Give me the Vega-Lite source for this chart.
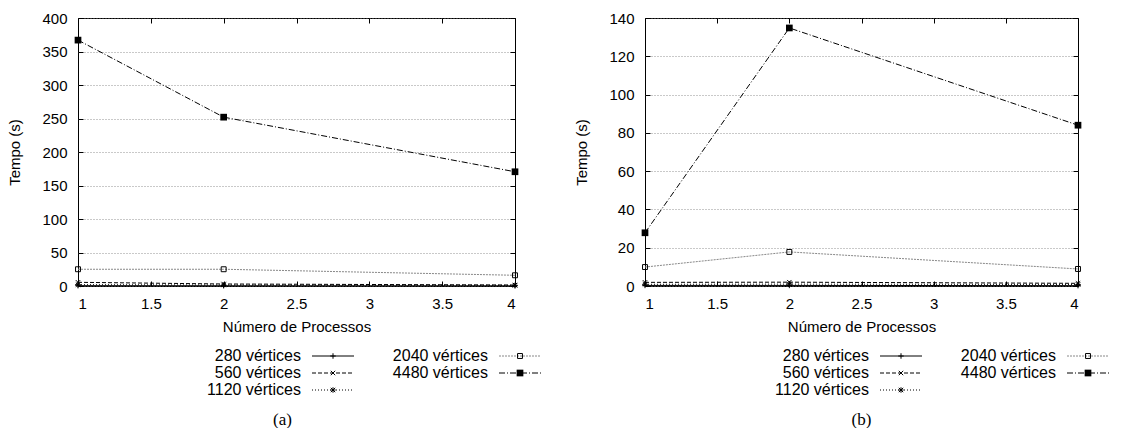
{
  "$schema": "https://vega.github.io/schema/vega-lite/v6.json",
  "background": "white",
  "padding": {"left": 7, "top": 10, "right": 0, "bottom": 0},
  "config": {
    "font": "Liberation Sans",
    "view": {"stroke": "black", "strokeWidth": 1},
    "axis": {
      "labelFont": "Liberation Sans", "labelFontSize": 15, "labelColor": "black",
      "titleFont": "Liberation Sans", "titleFontSize": 15, "titleFontWeight": "normal", "titleColor": "black",
      "domain": false, "tickColor": "black", "tickSize": -5, "tickWidth": 1
    },
    "axisX": {"grid": false, "labelPadding": 15, "titlePadding": 8, "format": "~g"},
    "axisY": {"grid": true, "gridColor": "#777", "gridDash": [1, 2], "gridWidth": 0.8, "labelPadding": 16, "titlePadding": 19}
  },
  "datasets": {
    "times": [
      {"panel": "a", "series": "280 vértices", "proc": 1, "time": 0.5},
      {"panel": "a", "series": "280 vértices", "proc": 2, "time": 0.4},
      {"panel": "a", "series": "280 vértices", "proc": 4, "time": 0.3},
      {"panel": "a", "series": "560 vértices", "proc": 1, "time": 5.5},
      {"panel": "a", "series": "560 vértices", "proc": 2, "time": 3},
      {"panel": "a", "series": "560 vértices", "proc": 4, "time": 1.5},
      {"panel": "a", "series": "1120 vértices", "proc": 1, "time": 2},
      {"panel": "a", "series": "1120 vértices", "proc": 2, "time": 1.5},
      {"panel": "a", "series": "1120 vértices", "proc": 4, "time": 1},
      {"panel": "a", "series": "2040 vértices", "proc": 1, "time": 25},
      {"panel": "a", "series": "2040 vértices", "proc": 2, "time": 25},
      {"panel": "a", "series": "2040 vértices", "proc": 4, "time": 16},
      {"panel": "a", "series": "4480 vértices", "proc": 1, "time": 367},
      {"panel": "a", "series": "4480 vértices", "proc": 2, "time": 252},
      {"panel": "a", "series": "4480 vértices", "proc": 4, "time": 170.5},
      {"panel": "b", "series": "280 vértices", "proc": 1, "time": 0.3},
      {"panel": "b", "series": "280 vértices", "proc": 2, "time": 0.3},
      {"panel": "b", "series": "280 vértices", "proc": 4, "time": 0.2},
      {"panel": "b", "series": "560 vértices", "proc": 1, "time": 1.9},
      {"panel": "b", "series": "560 vértices", "proc": 2, "time": 2},
      {"panel": "b", "series": "560 vértices", "proc": 4, "time": 1.4},
      {"panel": "b", "series": "1120 vértices", "proc": 1, "time": 0.9},
      {"panel": "b", "series": "1120 vértices", "proc": 2, "time": 1},
      {"panel": "b", "series": "1120 vértices", "proc": 4, "time": 0.8},
      {"panel": "b", "series": "2040 vértices", "proc": 1, "time": 9.9},
      {"panel": "b", "series": "2040 vértices", "proc": 2, "time": 17.8},
      {"panel": "b", "series": "2040 vértices", "proc": 4, "time": 8.9},
      {"panel": "b", "series": "4480 vértices", "proc": 1, "time": 27.8},
      {"panel": "b", "series": "4480 vértices", "proc": 2, "time": 134.8},
      {"panel": "b", "series": "4480 vértices", "proc": 4, "time": 84}
    ],
    "legend": [
      {"series": "280 vértices", "col": "c1", "row": 0},
      {"series": "560 vértices", "col": "c1", "row": 1},
      {"series": "1120 vértices", "col": "c1", "row": 2},
      {"series": "2040 vértices", "col": "c2", "row": 0},
      {"series": "4480 vértices", "col": "c2", "row": 1}
    ]
  },
  "spacing": 32,
  "hconcat": [
    {
      "bounds": "flush",
      "spacing": 62,
      "vconcat": [
        {
          "width": 437, "height": 268,
          "data": {"name": "times"},
          "transform": [{"filter": "datum.panel === 'a'"}],
          "resolve": {"axis": {"x": "independent", "y": "independent"}},
          "layer": [
            {
              "mark": {"type": "line", "strokeWidth": 1},
              "encoding": {
                "x": {"field": "proc", "type": "quantitative", "scale": {"domain": [1, 4], "nice": false, "zero": false},
                      "axis": {"title": "Número de Processos", "values": [1, 1.5, 2, 2.5, 3, 3.5, 4]}},
                "y": {"field": "time", "type": "quantitative", "scale": {"domain": [0, 400], "nice": false},
                      "axis": {"title": "Tempo (s)", "values": [0, 50, 100, 150, 200, 250, 300, 350, 400]}},
                "color": {"field": "series", "type": "nominal", "legend": null,
                          "scale": {"domain": ["280 vértices", "560 vértices", "1120 vértices", "2040 vértices", "4480 vértices"], "range": ["black", "black", "black", "#888888", "black"]}},
                "strokeDash": {"field": "series", "type": "nominal", "legend": null,
                          "scale": {"domain": ["280 vértices", "560 vértices", "1120 vértices", "2040 vértices", "4480 vértices"], "range": [[1, 0], [4, 2], [1, 2], [2, 1], [6, 2, 1, 2]]}}
              }
            },
            {
              "transform": [{"filter": "datum.series !== '4480 vértices'"}],
              "mark": {"type": "point", "filled": false, "strokeWidth": 1, "color": "black", "size": 30, "opacity": 1},
              "encoding": {
                "x": {"field": "proc", "type": "quantitative",
                      "axis": {"orient": "top", "title": null, "labels": false, "grid": false, "values": [1, 1.5, 2, 2.5, 3, 3.5, 4]}},
                "y": {"field": "time", "type": "quantitative",
                      "axis": {"orient": "right", "title": null, "labels": false, "grid": false, "values": [0, 50, 100, 150, 200, 250, 300, 350, 400]}},
                "shape": {"field": "series", "type": "nominal", "legend": null,
                          "scale": {"domain": ["280 vértices", "560 vértices", "1120 vértices", "2040 vértices"],
                                    "range": ["M-1,0L1,0M0,-1L0,1", "M-0.8,-0.8L0.8,0.8M-0.8,0.8L0.8,-0.8", "M-1,0L1,0M0,-1L0,1M-0.8,-0.8L0.8,0.8M-0.8,0.8L0.8,-0.8", "M-0.9,-0.9L0.9,-0.9L0.9,0.9L-0.9,0.9Z"]}}
              }
            },
            {
              "transform": [{"filter": "datum.series === '4480 vértices'"}],
              "mark": {"type": "point", "filled": true, "shape": "square", "color": "black", "size": 45, "opacity": 1},
              "encoding": {
                "x": {"field": "proc", "type": "quantitative", "axis": null},
                "y": {"field": "time", "type": "quantitative", "axis": null}
              }
            }
          ]
        },
        {
          "width": 437, "height": 50,
          "view": {"stroke": null},
          "data": {"name": "legend"},
          "title": {"text": "(a)", "orient": "bottom", "font": "Liberation Serif", "fontSize": 17, "fontWeight": "normal", "color": "black", "offset": 14, "dx": -14},
          "encoding": {
            "x": {"field": "col", "type": "ordinal", "axis": null, "scale": {"type": "point", "domain": ["c1", "c2"], "range": [223, 410], "padding": 0}},
            "y": {"field": "row", "type": "ordinal", "axis": null, "scale": {"type": "point", "domain": [0, 1, 2], "range": [8, 42], "padding": 0}}
          },
          "layer": [
            {
              "mark": {"type": "text", "align": "right", "baseline": "middle", "font": "Liberation Sans", "fontSize": 16, "color": "black"},
              "encoding": {"text": {"field": "series"}}
            },
            {
              "mark": {"type": "rule", "xOffset": 11, "x2Offset": 53, "strokeWidth": 1},
              "encoding": {
                "x2": {"field": "col"},
                "color": {"field": "series", "type": "nominal", "legend": null,
                          "scale": {"domain": ["280 vértices", "560 vértices", "1120 vértices", "2040 vértices", "4480 vértices"], "range": ["black", "black", "black", "#888888", "black"]}},
                "strokeDash": {"field": "series", "type": "nominal", "legend": null,
                          "scale": {"domain": ["280 vértices", "560 vértices", "1120 vértices", "2040 vértices", "4480 vértices"], "range": [[1, 0], [4, 2], [1, 2], [2, 1], [6, 2, 1, 2]]}}
              }
            },
            {
              "transform": [{"filter": "datum.series !== '4480 vértices'"}],
              "mark": {"type": "point", "filled": false, "xOffset": 32, "strokeWidth": 1, "color": "black", "size": 30, "opacity": 1},
              "encoding": {
                "shape": {"field": "series", "type": "nominal", "legend": null,
                          "scale": {"domain": ["280 vértices", "560 vértices", "1120 vértices", "2040 vértices"],
                                    "range": ["M-1,0L1,0M0,-1L0,1", "M-0.8,-0.8L0.8,0.8M-0.8,0.8L0.8,-0.8", "M-1,0L1,0M0,-1L0,1M-0.8,-0.8L0.8,0.8M-0.8,0.8L0.8,-0.8", "M-0.9,-0.9L0.9,-0.9L0.9,0.9L-0.9,0.9Z"]}}
              }
            },
            {
              "transform": [{"filter": "datum.series === '4480 vértices'"}],
              "mark": {"type": "point", "filled": true, "shape": "square", "xOffset": 32, "color": "black", "size": 45, "opacity": 1}
            }
          ]
        }
      ]
    },
    {
      "bounds": "flush",
      "spacing": 62,
      "vconcat": [
        {
          "width": 433, "height": 268,
          "data": {"name": "times"},
          "transform": [{"filter": "datum.panel === 'b'"}],
          "resolve": {"axis": {"x": "independent", "y": "independent"}},
          "layer": [
            {
              "mark": {"type": "line", "strokeWidth": 1},
              "encoding": {
                "x": {"field": "proc", "type": "quantitative", "scale": {"domain": [1, 4], "nice": false, "zero": false},
                      "axis": {"title": "Número de Processos", "values": [1, 1.5, 2, 2.5, 3, 3.5, 4]}},
                "y": {"field": "time", "type": "quantitative", "scale": {"domain": [0, 140], "nice": false},
                      "axis": {"title": "Tempo (s)", "values": [0, 20, 40, 60, 80, 100, 120, 140]}},
                "color": {"field": "series", "type": "nominal", "legend": null,
                          "scale": {"domain": ["280 vértices", "560 vértices", "1120 vértices", "2040 vértices", "4480 vértices"], "range": ["black", "black", "black", "#888888", "black"]}},
                "strokeDash": {"field": "series", "type": "nominal", "legend": null,
                          "scale": {"domain": ["280 vértices", "560 vértices", "1120 vértices", "2040 vértices", "4480 vértices"], "range": [[1, 0], [4, 2], [1, 2], [2, 1], [6, 2, 1, 2]]}}
              }
            },
            {
              "transform": [{"filter": "datum.series !== '4480 vértices'"}],
              "mark": {"type": "point", "filled": false, "strokeWidth": 1, "color": "black", "size": 30, "opacity": 1},
              "encoding": {
                "x": {"field": "proc", "type": "quantitative",
                      "axis": {"orient": "top", "title": null, "labels": false, "grid": false, "values": [1, 1.5, 2, 2.5, 3, 3.5, 4]}},
                "y": {"field": "time", "type": "quantitative",
                      "axis": {"orient": "right", "title": null, "labels": false, "grid": false, "values": [0, 20, 40, 60, 80, 100, 120, 140]}},
                "shape": {"field": "series", "type": "nominal", "legend": null,
                          "scale": {"domain": ["280 vértices", "560 vértices", "1120 vértices", "2040 vértices"],
                                    "range": ["M-1,0L1,0M0,-1L0,1", "M-0.8,-0.8L0.8,0.8M-0.8,0.8L0.8,-0.8", "M-1,0L1,0M0,-1L0,1M-0.8,-0.8L0.8,0.8M-0.8,0.8L0.8,-0.8", "M-0.9,-0.9L0.9,-0.9L0.9,0.9L-0.9,0.9Z"]}}
              }
            },
            {
              "transform": [{"filter": "datum.series === '4480 vértices'"}],
              "mark": {"type": "point", "filled": true, "shape": "square", "color": "black", "size": 45, "opacity": 1},
              "encoding": {
                "x": {"field": "proc", "type": "quantitative", "axis": null},
                "y": {"field": "time", "type": "quantitative", "axis": null}
              }
            }
          ]
        },
        {
          "width": 433, "height": 50,
          "view": {"stroke": null},
          "data": {"name": "legend"},
          "title": {"text": "(b)", "orient": "bottom", "font": "Liberation Serif", "fontSize": 17, "fontWeight": "normal", "color": "black", "offset": 14},
          "encoding": {
            "x": {"field": "col", "type": "ordinal", "axis": null, "scale": {"type": "point", "domain": ["c1", "c2"], "range": [224, 411], "padding": 0}},
            "y": {"field": "row", "type": "ordinal", "axis": null, "scale": {"type": "point", "domain": [0, 1, 2], "range": [8, 42], "padding": 0}}
          },
          "layer": [
            {
              "mark": {"type": "text", "align": "right", "baseline": "middle", "font": "Liberation Sans", "fontSize": 16, "color": "black"},
              "encoding": {"text": {"field": "series"}}
            },
            {
              "mark": {"type": "rule", "xOffset": 11, "x2Offset": 53, "strokeWidth": 1},
              "encoding": {
                "x2": {"field": "col"},
                "color": {"field": "series", "type": "nominal", "legend": null,
                          "scale": {"domain": ["280 vértices", "560 vértices", "1120 vértices", "2040 vértices", "4480 vértices"], "range": ["black", "black", "black", "#888888", "black"]}},
                "strokeDash": {"field": "series", "type": "nominal", "legend": null,
                          "scale": {"domain": ["280 vértices", "560 vértices", "1120 vértices", "2040 vértices", "4480 vértices"], "range": [[1, 0], [4, 2], [1, 2], [2, 1], [6, 2, 1, 2]]}}
              }
            },
            {
              "transform": [{"filter": "datum.series !== '4480 vértices'"}],
              "mark": {"type": "point", "filled": false, "xOffset": 32, "strokeWidth": 1, "color": "black", "size": 30, "opacity": 1},
              "encoding": {
                "shape": {"field": "series", "type": "nominal", "legend": null,
                          "scale": {"domain": ["280 vértices", "560 vértices", "1120 vértices", "2040 vértices"],
                                    "range": ["M-1,0L1,0M0,-1L0,1", "M-0.8,-0.8L0.8,0.8M-0.8,0.8L0.8,-0.8", "M-1,0L1,0M0,-1L0,1M-0.8,-0.8L0.8,0.8M-0.8,0.8L0.8,-0.8", "M-0.9,-0.9L0.9,-0.9L0.9,0.9L-0.9,0.9Z"]}}
              }
            },
            {
              "transform": [{"filter": "datum.series === '4480 vértices'"}],
              "mark": {"type": "point", "filled": true, "shape": "square", "xOffset": 32, "color": "black", "size": 45, "opacity": 1}
            }
          ]
        }
      ]
    }
  ]
}
